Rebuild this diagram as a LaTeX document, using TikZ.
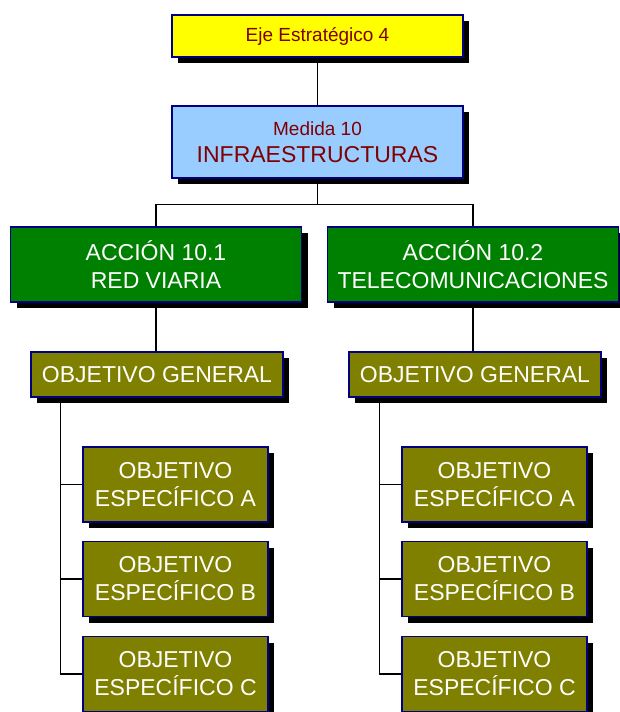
\documentclass[tikz,border=0pt]{standalone}
\usepackage{fontspec}
\setmainfont{Liberation Sans}
\usetikzlibrary{shadows,calc}
\definecolor{ejey}{HTML}{FFFF00}
\definecolor{darkred}{HTML}{800000}
\definecolor{lblue}{HTML}{99CCFF}
\definecolor{dgreen}{HTML}{008000}
\definecolor{olive}{HTML}{808000}
\definecolor{navy}{HTML}{000080}
\tikzset{
  box/.style={draw=navy, line width=1.2pt, rectangle, inner sep=0pt, align=center,
    general shadow={fill=black, shadow xshift=6pt, shadow yshift=-6pt}},
  ejebox/.style={box, fill=ejey, text=darkred, minimum width=291pt, minimum height=42pt,
    font=\fontsize{19}{23}\selectfont},
  medbox/.style={box, fill=lblue, text=darkred, minimum width=291pt, minimum height=72pt,
    font=\fontsize{23}{27}\selectfont},
  accbox/.style={box, fill=dgreen, text=white, minimum width=291pt, minimum height=75pt,
    font=\fontsize{23}{28}\selectfont},
  ogbox/.style={box, fill=olive, text=white, minimum width=252pt, minimum height=45pt,
    font=\fontsize{23}{28}\selectfont},
  espbox/.style={box, fill=olive, text=white, minimum width=185pt, minimum height=75pt,
    font=\fontsize{23}{28}\selectfont},
  conn/.style={draw=black, line width=1.3pt}
}
\begin{document}
\begin{tikzpicture}[x=1pt,y=-1pt]
\useasboundingbox (0,0) rectangle (619,712);
\node[ejebox] (eje) at (317.5,36) {Eje Estratégico 4};
\node[medbox] (med) at (317.5,142) {{\fontsize{19}{27}\selectfont Medida 10}\\INFRAESTRUCTURAS};
\node[accbox] (a1) at (156,264.5) {ACCIÓN 10.1\\RED VIARIA};
\node[accbox] (a2) at (473,264.5) {ACCIÓN 10.2\\TELECOMUNICACIONES};
\node[ogbox] (og1) at (157,374.5) {OBJETIVO GENERAL};
\node[ogbox] (og2) at (475,374.5) {OBJETIVO GENERAL};
\node[espbox] (e1a) at (175.5,484.5) {OBJETIVO\\ESPECÍFICO A};
\node[espbox] (e1b) at (175.5,579) {OBJETIVO\\ESPECÍFICO B};
\node[espbox] (e1c) at (175.5,674) {OBJETIVO\\ESPECÍFICO C};
\node[espbox] (e2a) at (494.5,484.5) {OBJETIVO\\ESPECÍFICO A};
\node[espbox] (e2b) at (494.5,579) {OBJETIVO\\ESPECÍFICO B};
\node[espbox] (e2c) at (494.5,674) {OBJETIVO\\ESPECÍFICO C};
\coordinate (bus) at ($(med.south)+(0,26)$);
\coordinate (t1) at ($(og1.south west)+(30,0)$);
\coordinate (t2) at ($(og2.south west)+(31,0)$);
\draw[conn] (eje.south) -- (med.north);
\draw[conn] (med.south) -- (bus);
\draw[conn] (a1.north) |- (bus) -| (a2.north);
\draw[conn] (a1.south) -- (a1.south |- og1.north);
\draw[conn] (a2.south) -- (a2.south |- og2.north);
\draw[conn] (t1) |- (e1a.west);
\draw[conn] (t1) |- (e1b.west);
\draw[conn] (t1) |- (e1c.west);
\draw[conn] (t2) |- (e2a.west);
\draw[conn] (t2) |- (e2b.west);
\draw[conn] (t2) |- (e2c.west);
\end{tikzpicture}
\end{document}
